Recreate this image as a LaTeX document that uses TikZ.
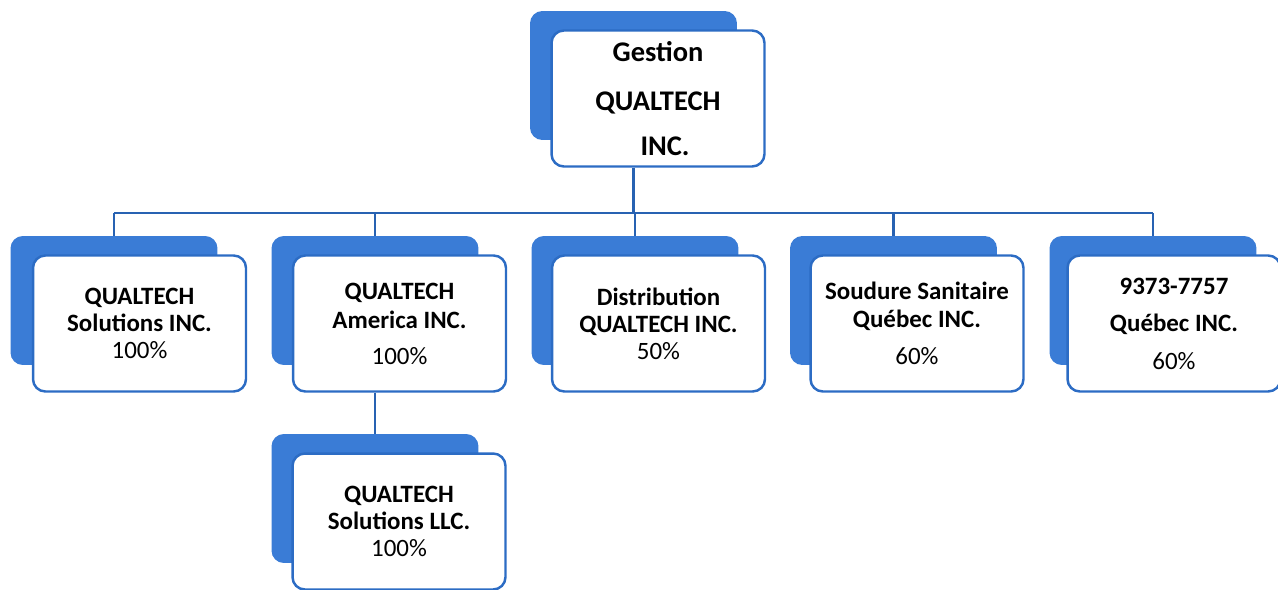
\documentclass[tikz,border=0pt]{standalone}
\usepackage{fontspec}
\setmainfont{Carlito}
\definecolor{qblue}{RGB}{58,124,214}
\definecolor{qedge}{RGB}{44,108,196}
\definecolor{qline}{RGB}{40,98,178}

\begin{document}
\begin{tikzpicture}[x=0.02cm, y=0.02cm]
\tikzset{
  backbox/.style={fill=qblue, rounded corners=7pt, minimum width=4.14cm, minimum height=2.58cm, inner sep=0pt},
  unitbox/.style={draw=qedge, fill=white, line width=1.4pt, rounded corners=7pt, minimum width=4.26cm, minimum height=2.72cm, inner sep=0pt, align=center, font=\fontsize{14.2}{15.4}\selectfont\bfseries},
  link/.style={draw=qline, line width=1.6pt}
}
\useasboundingbox (0,0) rectangle (1278,-589);
% back cards
\node [backbox] (gestion-back) at (633.5,-75.5) {};
\node [backbox] (sol-back) at (114,-300.5) {};
\node [backbox] (amer-back) at (375,-300.5) {};
\node [backbox] (dist-back) at (635,-300.5) {};
\node [backbox] (soud-back) at (893.5,-300.5) {};
\node [backbox] (que-back) at (1153,-300.5) {};
\node [backbox] (llc-back) at (375,-498.5) {};
% front cards
\node [unitbox, font=\fontsize{16.2}{19.2}\selectfont\bfseries] (gestion) at (658,-98.5)
  {Gestion\\[8.7pt] QUALTECH\\[6.4pt] \hspace*{8pt}INC.};
\node [unitbox] (sol) at (139.5,-323.5) {QUALTECH\\ Solutions INC.\\ {\mdseries 100\%}};
\node [unitbox] (amer) at (399.5,-323.5) {QUALTECH\\[1.1pt] America INC.\\[5.1pt] {\mdseries 100\%}};
\node [unitbox] (dist) at (658.5,-323.5) {Distribution\\ QUALTECH INC.\\ {\mdseries 50\%}};
\node [unitbox] (soud) at (917,-323.5) {Soudure Sanitaire\\[0.5pt] Québec INC.\\[5.7pt] {\mdseries 60\%}};
\node [unitbox] (que) at (1174,-323.5) {9373-7757\\[5.7pt] Québec INC.\\[6.2pt] {\mdseries 60\%}};
\node [unitbox] (llc) at (399,-521.5) {QUALTECH\\ Solutions LLC.\\ {\mdseries 100\%}};
% connectors
\coordinate (bus) at (633.5,-213);
\draw [link] (gestion.south -| gestion-back) -- (bus);
\draw [link] (sol-back |- bus) -- (que-back |- bus);
\draw [link] (sol-back |- bus) -- (sol-back.north);
\draw [link] (amer-back |- bus) -- (amer-back.north);
\draw [link] (dist-back |- bus) -- (dist-back.north);
\draw [link] (soud-back |- bus) -- (soud-back.north);
\draw [link] (que-back |- bus) -- (que-back.north);
\draw [link] (amer.south -| amer-back) -- (llc-back.north);
\end{tikzpicture}
\end{document}
